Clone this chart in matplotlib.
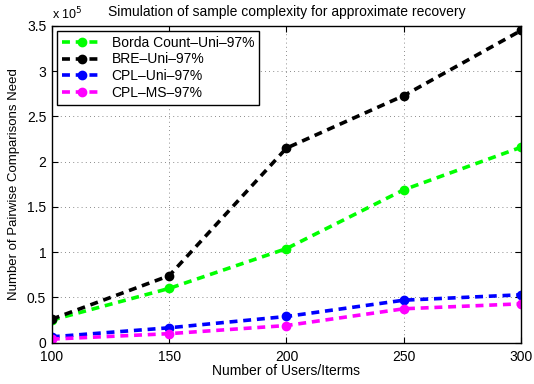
import numpy as np
import matplotlib
matplotlib.use('Agg')
import matplotlib.pyplot as plt

plt.rcParams['font.family'] = ['Liberation Sans', 'DejaVu Sans']

users = [100, 150, 200, 250, 300]
borda = [0.25e5, 0.60e5, 1.04e5, 1.69e5, 2.16e5]
bre = [0.26e5, 0.74e5, 2.15e5, 2.73e5, 3.45e5]
cpl_uni = [0.065e5, 0.165e5, 0.29e5, 0.47e5, 0.53e5]
cpl_ms = [0.04e5, 0.10e5, 0.19e5, 0.375e5, 0.43e5]

fig = plt.figure(figsize=(5.34, 3.84), dpi=100)
ax = fig.add_axes([0.097, 0.1075, 0.879, 0.825])

style = dict(linestyle='--', linewidth=2.6, marker='o', markersize=6, dashes=(2.2, 1.6))
ax.plot(users, borda, color='#00ff00', label='Borda Count\u2013Uni\u201397%', **style)
ax.plot(users, bre, color='black', label='BRE\u2013Uni\u201397%', **style)
ax.plot(users, cpl_uni, color='blue', label='CPL\u2013Uni\u201397%', **style)
ax.plot(users, cpl_ms, color='magenta', label='CPL\u2013MS\u201397%', **style)

ax.set_xlim(100, 300)
ax.set_ylim(0, 3.5e5)
ax.set_xticks([100, 150, 200, 250, 300])
yt = np.arange(0, 3.51e5, 0.5e5)
ax.set_yticks(yt)
ax.set_yticklabels(['0', '0.5', '1', '1.5', '2', '2.5', '3', '3.5'])
ax.tick_params(direction='in', labelsize=10, length=4, top=True, right=True)
ax.tick_params(axis='x', pad=5)
ax.tick_params(axis='y', pad=4)
ax.grid(True, linestyle=(0, (1, 4)), color='#666666', linewidth=0.6)
for s in ax.spines.values():
    s.set_linewidth(1)

ax.text(0.0, 1.012, r'x 10$^5$', transform=ax.transAxes, fontsize=9, ha='left', va='bottom')
ax.set_title('Simulation of sample complexity for approximate recovery', fontsize=10, pad=7)
ax.set_xlabel('Number of Users/Iterms', fontsize=10, labelpad=0)
ax.set_ylabel('Number of Pairwise Comparisons Need', fontsize=9.5, labelpad=5)

leg = ax.legend(loc='upper left', fontsize=10, fancybox=False, framealpha=1,
                edgecolor='black', borderaxespad=0.35, handlelength=3,
                labelspacing=0.2, borderpad=0.35, handletextpad=0.6)
leg.get_frame().set_linewidth(1)

fig.savefig('out.png', dpi=100)
